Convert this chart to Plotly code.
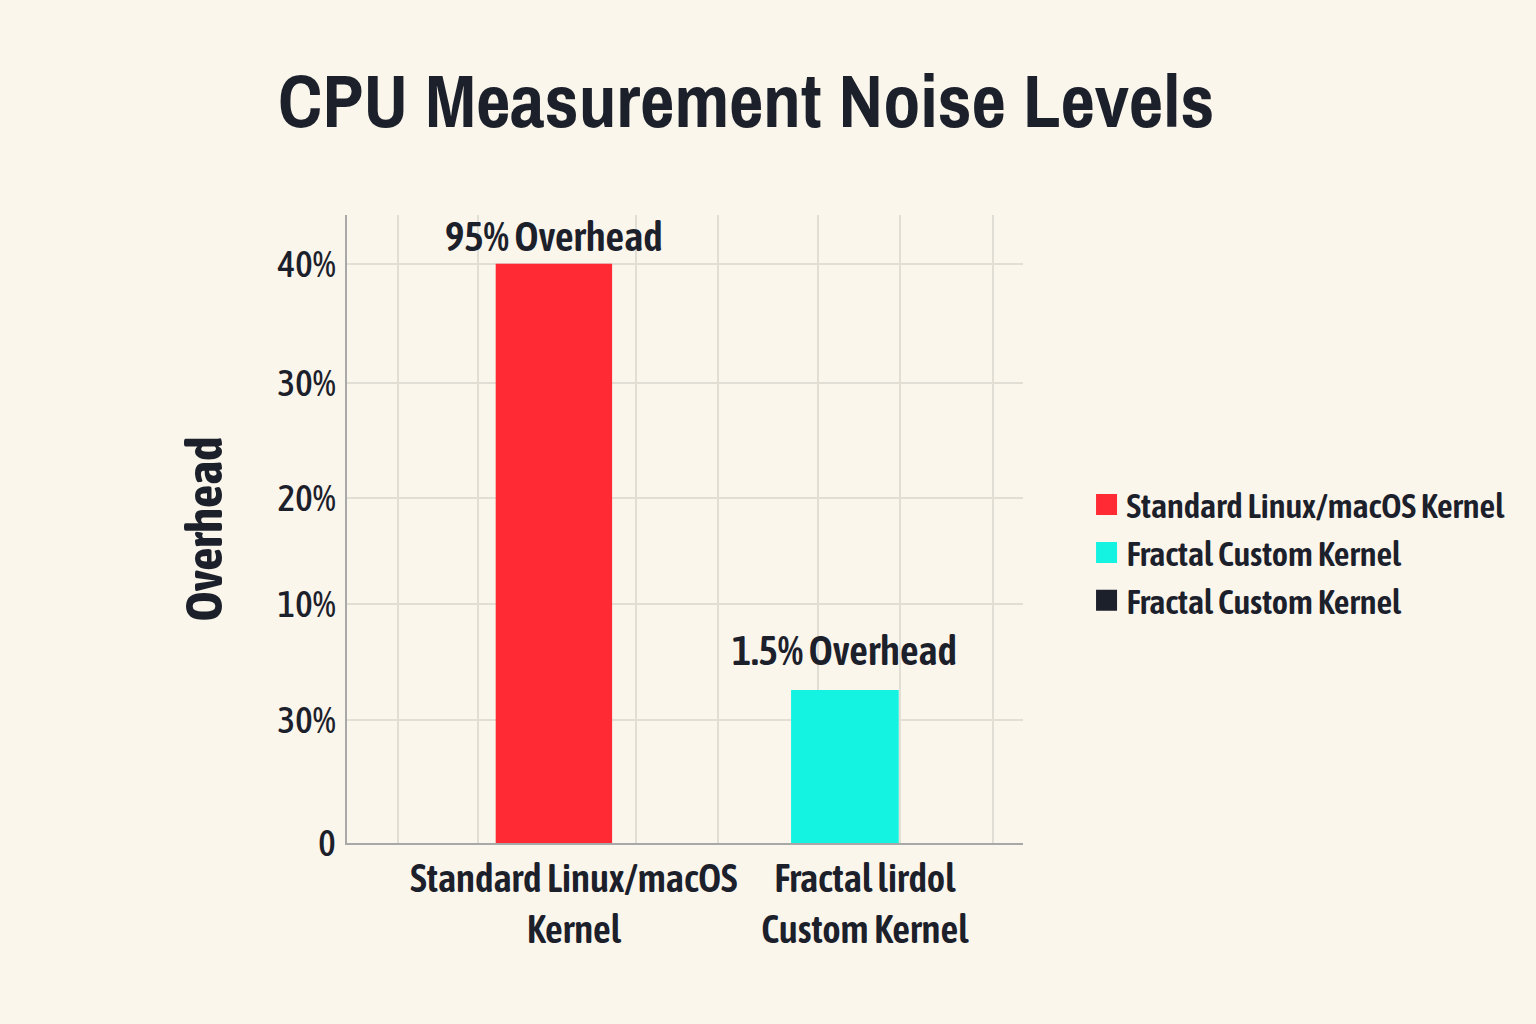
import plotly.graph_objects as go

# ---- data ----
categories = ["Standard Linux/macOS<br>Kernel", "Fractal lirdol<br>Custom Kernel"]
standard_vals = [50, None]
fractal_vals = [None, 13.2]
dark_vals = [None, None]
series_names = ["Standard Linux/macOS Kernel", "Fractal Custom Kernel", "Fractal Custom Kernel"]
series_colors = ["#FF2A33", "#14F2E2", "#1C202B"]
bar_labels = ["95% Overhead", "1.5% Overhead"]
y_tickvals = [0, 10.6, 20.6, 29.8, 39.7, 50]
y_ticktext = ["0", "30%", "10%", "20%", "30%", "40%"]
x_grid_positions = [-0.536, -0.261, 0.282, 0.564, 0.907, 1.189, 1.509]

BG = "#FAF6EB"
DARK = "#1C202B"
FONT = "Asap Condensed, Archivo Narrow, Roboto, sans-serif"
TITLE_FONT = "Archivo Narrow, Asap Condensed, Roboto, sans-serif"

fig = go.Figure()
for vals, name, col, w in zip([standard_vals, fractal_vals, dark_vals], series_names,
                              series_colors, [0.40, 0.37, 0.37]):
    fig.add_trace(go.Bar(x=categories, y=vals, name=name, showlegend=False,
                         legendgroup=name + col,
                         marker=dict(color=col, line=dict(width=0)), width=w))
# legend entries (larger square swatches)
for name, col in zip(series_names, series_colors):
    fig.add_trace(go.Scatter(x=[None], y=[None], mode="markers", name=name,
                             legendgroup=name + col,
                             marker=dict(symbol="square", size=16, color=col,
                                         line=dict(color=col, width=5))))
# invisible helper trace to activate the grid axis
fig.add_trace(go.Scatter(x=[0], y=[None], xaxis="x2", mode="markers",
                         showlegend=False, hoverinfo="skip"))

xr = [-0.711, 1.612]
fig.update_layout(
    width=1536, height=1024,
    paper_bgcolor=BG, plot_bgcolor=BG,
    margin=dict(l=347, r=513, t=215, b=181, autoexpand=False),
    barmode="overlay",
    font=dict(family=FONT, color=DARK),
    title=dict(text="CPU Measurement Noise Levels",
               font=dict(size=75, family=TITLE_FONT, color=DARK, weight=700),
               x=278/1536, xanchor="left", xref="container",
               y=1-101/1024, yanchor="middle", yref="container"),
    xaxis=dict(type="category", range=xr, showgrid=False, automargin=False,
               showline=True, linecolor="#A8A8A8", linewidth=2, tickangle=0,
               ticks="", tickfont=dict(size=39, family=FONT, color=DARK, weight=600),
               ticklabelshift=20, ticklabelstandoff=0, zeroline=False),
    xaxis2=dict(overlaying="x", range=xr, showgrid=True, gridcolor="#E1DED6",
                gridwidth=2, tickvals=x_grid_positions, showticklabels=False,
                ticks="", zeroline=False, showline=False),
    yaxis=dict(range=[0, 54.2], tickvals=y_tickvals, ticktext=y_ticktext, automargin=False,
               showgrid=True, gridcolor="#E1DED6", gridwidth=2,
               showline=True, linecolor="#A8A8A8", linewidth=2,
               zeroline=False, ticks="", ticklabelstandoff=2,
               tickfont=dict(size=37, family=FONT, color=DARK, weight=500),
               title=dict(text="Overhead", font=dict(size=51, family=FONT, color=DARK, weight=700),
                          standoff=38)),
    legend=dict(x=1.094, xanchor="left", y=0.585, yanchor="top",
                bgcolor="rgba(0,0,0,0)", font=dict(size=34.5, family=FONT, color=DARK, weight=600),
                itemwidth=30, tracegroupgap=0, itemsizing="trace"),
    showlegend=True,
)

fig.add_annotation(x=categories[0], y=standard_vals[0], text=bar_labels[0],
                   showarrow=False, yanchor="bottom", yshift=2,
                   font=dict(size=41, family=FONT, color=DARK, weight=600))
fig.add_annotation(x=categories[1], y=fractal_vals[1], text=bar_labels[1],
                   showarrow=False, yanchor="bottom", yshift=14,
                   font=dict(size=41, family=FONT, color=DARK, weight=600))

fig.write_html("out.html")
